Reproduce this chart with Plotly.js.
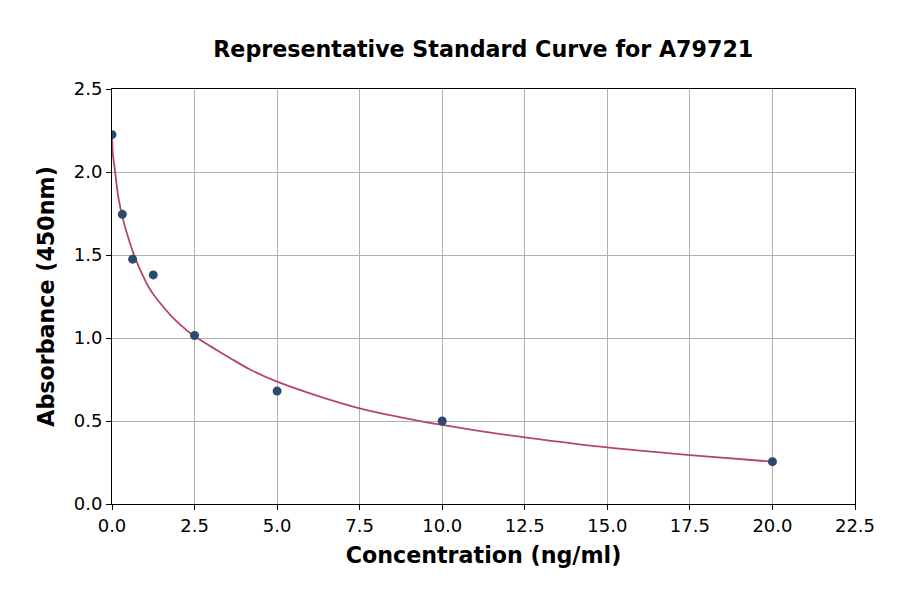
<!DOCTYPE html>
<html>
<head>
<meta charset="utf-8">
<script src="https://cdn.plot.ly/plotly-3.0.1.min.js"></script>
<style>html,body{margin:0;padding:0;background:#fff;}#chart{width:900px;height:594px;}</style>
</head>
<body>
<div id="chart"></div>
<script>
const conc = [0, 0.3125, 0.625, 1.25, 2.5, 5, 10, 20];
const absorbance = [2.225, 1.745, 1.475, 1.38, 1.015, 0.68, 0.5, 0.255];
const curveX = [0, 0.03, 0.09, 0.19, 0.34, 0.5, 0.65, 0.8, 0.95, 1.1, 1.3, 1.5, 1.76, 2.1, 2.5, 3.0, 3.57, 4.18, 5, 6.25, 7.5, 8.75, 10, 11.25, 12.5, 15, 17.5, 20];
const curveY = [2.22, 2.10, 2.01, 1.85, 1.71, 1.60, 1.51, 1.435, 1.37, 1.31, 1.25, 1.20, 1.14, 1.075, 1.01, 0.948, 0.88, 0.81, 0.737, 0.65, 0.576, 0.522, 0.476, 0.436, 0.402, 0.341, 0.295, 0.255];
const xTicks = [0, 2.5, 5, 7.5, 10, 12.5, 15, 17.5, 20, 22.5];
const yTicks = [0, 0.5, 1, 1.5, 2, 2.5];

const font = 'DejaVu Sans, sans-serif';
const traces = [
  {x: curveX, y: curveY, mode: 'lines', line: {color: '#b5466b', width: 1.8, shape: 'spline', smoothing: 0.8}, hoverinfo: 'skip', showlegend: false},
  {x: conc, y: absorbance, mode: 'markers', marker: {color: '#2b4a6f', size: 9}, showlegend: false}
];
const axisCommon = {
  showgrid: true, gridcolor: '#b0b0b0', gridwidth: 1,
  showline: true, linecolor: '#000', linewidth: 1, mirror: true,
  ticks: 'outside', ticklen: 5, tickcolor: '#000',
  tickfont: {family: font, size: 18, color: '#000'}, zeroline: false
};
const layout = {
  width: 900, height: 594,
  margin: {l: 112, r: 45, t: 89, b: 90},
  paper_bgcolor: '#fff', plot_bgcolor: '#fff',
  title: {text: '<b>Representative Standard Curve for A79721</b>', font: {family: font, size: 22.2, color: '#000'}, x: 0.537, xanchor: 'center', y: 0.917, yanchor: 'middle'},
  xaxis: Object.assign({}, axisCommon, {
    range: [0, 22.5], tickvals: xTicks, ticktext: xTicks.map(v => v.toFixed(1)),
    title: {text: '<b>Concentration (ng/ml)</b>', font: {family: font, size: 22.2, color: '#000'}, standoff: 12}
  }),
  yaxis: Object.assign({}, axisCommon, {
    range: [0, 2.5], tickvals: yTicks, ticktext: yTicks.map(v => v.toFixed(1)),
    title: {text: '<b>Absorbance (450nm)</b>', font: {family: font, size: 22.2, color: '#000'}, standoff: 12}
  })
};
Plotly.newPlot('chart', traces, layout, {displayModeBar: false, staticPlot: true});
</script>
</body>
</html>
